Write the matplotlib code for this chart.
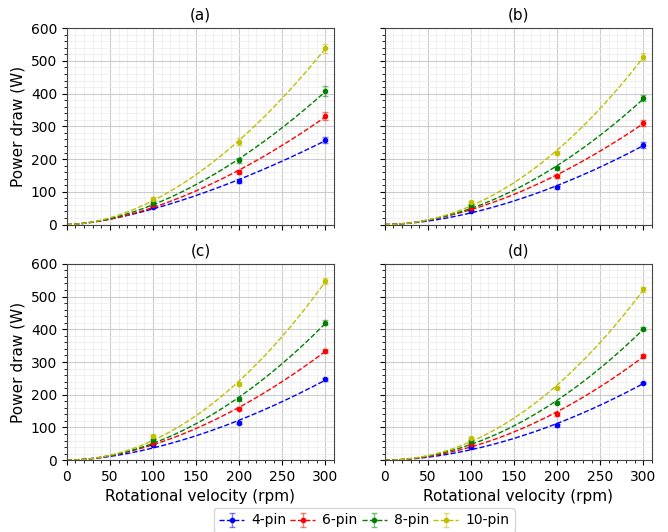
import numpy as np
import matplotlib
matplotlib.use('Agg')
import matplotlib.pyplot as plt
from matplotlib.ticker import MultipleLocator

rpm = [100, 200, 300]
labels = ['4-pin', '6-pin', '8-pin', '10-pin']
colors = ['b', 'r', 'g', 'y']
titles = ['(a)', '(b)', '(c)', '(d)']

# power draw (W) per panel, per pin count, at 100/200/300 rpm
power_a = [[53, 133, 258], [60, 160, 331], [67, 196, 408], [79, 253, 539]]
power_b = [[42, 114, 243], [51, 148, 310], [59, 173, 386], [68, 220, 513]]
power_c = [[46, 115, 247], [53, 157, 334], [61, 186, 420], [74, 233, 548]]
power_d = [[40, 106, 236], [50, 141, 318], [58, 176, 402], [68, 222, 522]]

err_a = [[3, 5, 10], [3, 7, 12], [4, 8, 15], [4, 10, 14]]
err_b = [[2, 5, 8], [3, 6, 9], [3, 6, 9], [4, 6, 10]]
err_c = [[2, 4, 5], [3, 5, 6], [3, 6, 8], [4, 6, 10]]
err_d = [[2, 4, 4], [3, 5, 5], [3, 5, 5], [3, 5, 7]]

panels = [power_a, power_b, power_c, power_d]
errs = [err_a, err_b, err_c, err_d]


def fit_power(x, y):
    # least squares fit of y = a*x^b, brute force on b
    x = np.array(x, float)
    y = np.array(y, float)
    best = None
    for b in np.linspace(1.0, 3.0, 2001):
        xb = x ** b
        a = np.sum(y * xb) / np.sum(xb * xb)
        sse = np.sum((y - a * xb) ** 2)
        if best is None or sse < best[0]:
            best = (sse, a, b)
    return best[1], best[2]


fig, axes = plt.subplots(2, 2, figsize=(6.68, 5.32), dpi=100)
plt.subplots_adjust(left=0.1, right=0.976, top=0.947, bottom=0.135,
                    wspace=0.19, hspace=0.2)

xs = np.linspace(0, 300, 200)
handles = []
for k, ax in enumerate(axes.flat):
    for i in range(4):
        a, b = fit_power(rpm, panels[k][i])
        ax.plot(xs, a * xs ** b, '--', color=colors[i], lw=1)
        h = ax.errorbar(rpm, panels[k][i], yerr=errs[k][i], fmt='o', color=colors[i],
                        ms=3, capsize=2, elinewidth=1, ecolor=colors[i],
                        label=labels[i], ls='--', lw=1)
        h[-1][0].set_alpha(0.5)
        for c in h[1]:
            c.set_alpha(0.5)
        if k == 0:
            handles.append(h)
        h[0].set_linestyle('none')
    ax.set_xlim(0, 310)
    ax.set_ylim(0, 600)
    ax.xaxis.set_major_locator(MultipleLocator(50))
    ax.xaxis.set_minor_locator(MultipleLocator(10))
    ax.yaxis.set_major_locator(MultipleLocator(100))
    ax.yaxis.set_minor_locator(MultipleLocator(20))
    ax.grid(which='major', color='#cccccc', lw=0.8)
    ax.grid(which='minor', color='#eeeeee', lw=0.6)
    ax.set_axisbelow(True)
    ax.set_title(titles[k], fontsize=11)
    for s in ax.spines.values():
        s.set_color('#444444')
    ax.tick_params(labelsize=10)
    if k in (0, 1):
        ax.tick_params(labelbottom=False)
    else:
        ax.set_xlabel('Rotational velocity (rpm)', fontsize=11)
    if k in (1, 3):
        ax.tick_params(labelleft=False)
    else:
        ax.set_ylabel('Power draw (W)', fontsize=11)

# legend shows dashed line through the marker
for h in handles:
    h[0].set_linestyle('--')
leg = fig.legend(handles, labels, loc='lower center', ncol=4, fontsize=10,
                 bbox_to_anchor=(0.545, -0.015), handlelength=1.8,
                 columnspacing=0.3, handletextpad=0.5)
for h in handles:
    h[0].set_linestyle('none')

fig.savefig('out.png', dpi=100)
